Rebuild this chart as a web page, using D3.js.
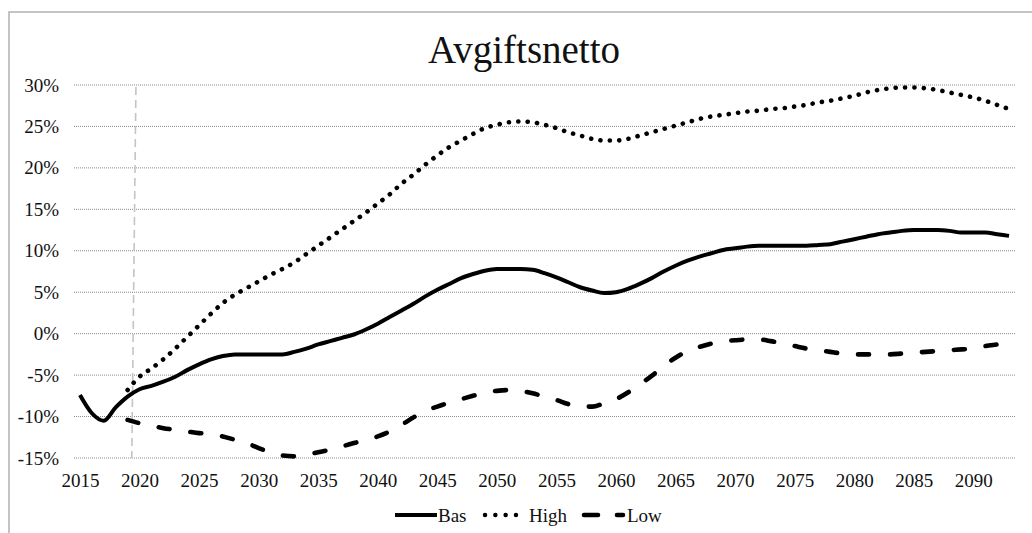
<!DOCTYPE html>
<html>
<head>
<meta charset="utf-8">
<script src="https://cdn.jsdelivr.net/npm/d3@7"></script>
<style>
  html, body { margin: 0; padding: 0; background: #fff; }
  svg { display: block; }
  .serif { font-family: "Liberation Serif", "LiberationSerif", "Tinos", "Times New Roman", Times, "DejaVu Serif", serif; fill: #111; }
</style>
</head>
<body>
<svg id="chart" width="1032" height="533"></svg>
<script>
const title = "Avgiftsnetto";
const years = [2015,2016,2017,2018,2019,2020,2021,2022,2023,2024,2025,2026,2027,2028,2029,2030,2031,2032,2033,2034,2035,2036,2037,2038,2039,2040,2041,2042,2043,2044,2045,2046,2047,2048,2049,2050,2051,2052,2053,2054,2055,2056,2057,2058,2059,2060,2061,2062,2063,2064,2065,2066,2067,2068,2069,2070,2071,2072,2073,2074,2075,2076,2077,2078,2079,2080,2081,2082,2083,2084,2085,2086,2087,2088,2089,2090,2091,2092,2093];
const bas = [-7.4,-9.6,-10.5,-8.9,-7.6,-6.7,-6.3,-5.8,-5.2,-4.4,-3.7,-3.1,-2.7,-2.5,-2.5,-2.5,-2.5,-2.5,-2.2,-1.8,-1.3,-0.9,-0.5,-0.1,0.5,1.2,2.0,2.8,3.6,4.5,5.3,6.0,6.7,7.2,7.6,7.8,7.8,7.8,7.7,7.3,6.8,6.2,5.6,5.2,4.9,5.0,5.4,6.0,6.7,7.5,8.2,8.8,9.3,9.7,10.1,10.3,10.5,10.6,10.6,10.6,10.6,10.6,10.7,10.8,11.1,11.4,11.7,12.0,12.2,12.4,12.5,12.5,12.5,12.4,12.2,12.2,12.2,12.0,11.8];
const high = [null,null,null,null,-6.8,-5.2,-4.2,-3.1,-1.8,-0.4,1.0,2.4,3.7,4.7,5.5,6.3,7.1,7.8,8.6,9.6,10.6,11.6,12.6,13.6,14.6,15.7,16.8,18.1,19.2,20.4,21.5,22.5,23.3,24.1,24.8,25.2,25.5,25.6,25.5,25.2,24.8,24.3,23.9,23.5,23.3,23.3,23.5,23.9,24.3,24.7,25.1,25.5,25.9,26.2,26.4,26.6,26.8,26.9,27.1,27.2,27.4,27.6,27.9,28.1,28.4,28.7,29.1,29.4,29.6,29.7,29.7,29.6,29.4,29.1,28.8,28.5,28.1,27.6,27.1];
const low = [null,null,null,null,-10.4,-10.8,-11.1,-11.4,-11.6,-11.8,-12.0,-12.1,-12.4,-12.8,-13.2,-13.8,-14.3,-14.7,-14.8,-14.6,-14.3,-14.0,-13.6,-13.2,-12.8,-12.4,-11.8,-11.0,-10.1,-9.3,-8.8,-8.3,-7.9,-7.5,-7.1,-6.9,-6.8,-6.9,-7.2,-7.6,-8.0,-8.5,-8.8,-8.8,-8.4,-7.9,-7.1,-6.1,-5.1,-3.9,-2.9,-2.1,-1.6,-1.2,-0.9,-0.8,-0.7,-0.7,-0.9,-1.2,-1.5,-1.8,-2.0,-2.2,-2.4,-2.5,-2.5,-2.5,-2.5,-2.4,-2.3,-2.2,-2.1,-2.0,-1.9,-1.8,-1.5,-1.3,-1.1];
const xTickLabels = [2015,2020,2025,2030,2035,2040,2045,2050,2055,2060,2065,2070,2075,2080,2085,2090];
const yTicks = [-15,-10,-5,0,5,10,15,20,25,30];
const markerYears = [2019.7, 2019.35]; // top, bottom of vertical dashed marker
const seriesNames = ["Bas", "High", "Low"];

const svg = d3.select("#chart");
const plot = { left: 74, right: 1015, top: 85, bottom: 458 };

// chart frame
svg.append("rect").attr("x", 9).attr("y", 12).attr("width", 1040).attr("height", 540)
  .attr("fill", "none").attr("stroke", "#a6a6a6").attr("stroke-width", 1.3);

const x = d3.scalePoint().domain(years).range([plot.left, plot.right]).padding(0.5);
const xLin = d3.scaleLinear().domain([years[0], years[years.length - 1]])
  .range([x(years[0]), x(years[years.length - 1])]);
const y = d3.scaleLinear().domain([-15, 30]).range([plot.bottom, plot.top]);

// title
svg.append("text").attr("class", "serif").attr("x", 524).attr("y", 62.5).attr("text-anchor", "middle")
  .style("font-size", "39px").text(title);

// gridlines
svg.append("g").selectAll("line").data(yTicks).join("line")
  .attr("x1", plot.left).attr("x2", plot.right)
  .attr("y1", d => y(d)).attr("y2", d => y(d))
  .attr("stroke", "#8a8a8a").attr("stroke-width", 1).attr("stroke-dasharray", "1 1");

// y axis
const yAxis = d3.axisLeft(y).tickValues(yTicks).tickFormat(d => d + "%").tickSize(0).tickPadding(15);
const gy = svg.append("g").attr("transform", `translate(${plot.left},0)`).call(yAxis);
gy.attr("font-family", null).attr("font-size", null);
gy.select(".domain").remove();
gy.selectAll("text").attr("class", "serif").style("font-size", "19px").attr("fill", "#111");

// x axis
const xAxis = d3.axisBottom(x).tickValues(xTickLabels).tickSize(0).tickPadding(16);
const gx = svg.append("g").attr("transform", `translate(0,${plot.bottom})`).call(xAxis);
gx.attr("font-family", null).attr("font-size", null);
gx.select(".domain").remove();
gx.selectAll("text").attr("class", "serif").style("font-size", "19px").attr("fill", "#111");

// vertical dashed marker
svg.append("line")
  .attr("x1", xLin(markerYears[0])).attr("y1", y(30) + 2)
  .attr("x2", xLin(markerYears[1])).attr("y2", y(-15))
  .attr("stroke", "#c4c4c4").attr("stroke-width", 1.6).attr("stroke-dasharray", "8 5");

const styles = {
  Bas:  { dash: null, width: 4 },
  High: { dash: "0.1 9.3", width: 4.6 },
  Low:  { dash: "11 21", width: 4.6 }
};
const seriesData = { Bas: bas, High: high, Low: low };

const line = d3.line()
  .defined(d => d.v !== null)
  .x(d => x(d.year)).y(d => y(d.v))
  .curve(d3.curveMonotoneX);

seriesNames.forEach(name => {
  const pts = years.map((yr, i) => ({ year: yr, v: seriesData[name][i] })).filter(d => d.v !== null);
  svg.append("path").datum(pts)
    .attr("d", line)
    .attr("fill", "none").attr("stroke", "#000")
    .attr("stroke-width", styles[name].width)
    .attr("stroke-linecap", name === "Bas" ? "butt" : "round")
    .attr("stroke-linejoin", "round")
    .attr("stroke-dasharray", styles[name].dash);
});

// legend
const legendY = 515;
const lg = svg.append("g");
lg.append("line").attr("x1", 395).attr("x2", 437).attr("y1", legendY).attr("y2", legendY)
  .attr("stroke", "#000").attr("stroke-width", 4);
lg.append("text").attr("class", "serif").attr("x", 438).attr("y", legendY + 7).style("font-size", "19px").text(seriesNames[0]);
lg.append("line").attr("x1", 485).attr("x2", 526).attr("y1", legendY).attr("y2", legendY)
  .attr("stroke", "#000").attr("stroke-width", 4.4).attr("stroke-linecap", "round").attr("stroke-dasharray", "0.1 10.2");
lg.append("text").attr("class", "serif").attr("x", 529).attr("y", legendY + 7).style("font-size", "19px").text(seriesNames[1]);
lg.append("line").attr("x1", 584).attr("x2", 623).attr("y1", legendY).attr("y2", legendY)
  .attr("stroke", "#000").attr("stroke-width", 4.6).attr("stroke-linecap", "round").attr("stroke-dasharray", "14 19");
lg.append("text").attr("class", "serif").attr("x", 627).attr("y", legendY + 7).style("font-size", "19px").text(seriesNames[2]);
</script>
</body>
</html>
